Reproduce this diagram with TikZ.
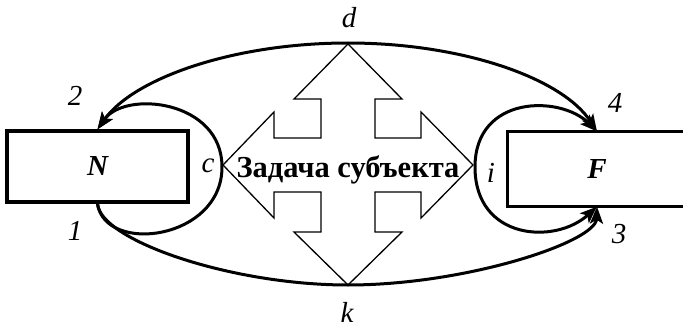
\documentclass[tikz,border=0pt]{standalone}
\usepackage{fontspec}
\setmainfont{Liberation Serif}
\usetikzlibrary{arrows.meta}
\tikzset{hd/.tip={Stealth[length=17pt,width=13pt,inset=4pt]}}
\begin{document}
\begin{tikzpicture}[x=1pt,y=-1pt,
  box/.style={line width=3.3pt, minimum width=181pt, minimum height=71pt, inner sep=0pt,
    font=\fontsize{29}{33}\selectfont\bfseries\itshape},
  flow/.style={line width=3pt},
  lbl/.style={font=\fontsize{29}{33}\selectfont\itshape, inner sep=0pt, anchor=base},
  cross/.style={line width=1.3pt, fill=white, line join=miter},
  title/.style={font=\fontsize{30.5}{34}\selectfont\bfseries, inner sep=0pt, anchor=base}]
\useasboundingbox (0,0) rectangle (683,329);
% boxes
\node[box, draw] (N) at (97.5,166.5) {N};
\node[box, minimum width=176pt, minimum height=72pt] (F) at (597,169) {F};
\draw[line width=3.3pt] (F.north east) -- (F.north west) -- (F.south west) -- (F.south east);
% points where curves meet the cross
\coordinate (dtop) at (348,43);
\coordinate (kbot) at (348,285);
\coordinate (cpt) at (222,167);
\coordinate (ipt) at (475,167);
% four-way arrow
\draw[cross] (348,44) -- (402,99) -- (375,99) -- (375,138) -- (421,138) -- (421,112)
  -- (473,165) -- (421,218) -- (421,192) -- (375,192) -- (375,232) -- (402,232)
  -- (348,285) -- (294,232) -- (321,232) -- (321,192) -- (274,192) -- (274,218)
  -- (223,165) -- (274,112) -- (274,138) -- (321,138) -- (321,99) -- (294,99) -- cycle;
\node[title] (task) at (348,177) {Задача субъекта};
% curves
\draw[flow, hd-hd] (N.north) .. controls (134,78) and (234,43) .. (dtop)
  .. controls (462,43) and (562,78) .. (F.north);
\draw[flow, -hd] (N.south) .. controls (100,240) and (230,285) .. (kbot)
  .. controls (466,285) and (596,242) .. (F.south);
\draw[flow, -hd] (N.south) .. controls (105,255) and (222,240) .. (cpt)
  .. controls (222,100) and (125,90) .. (N.north);
\draw[flow, hd-hd] (F.north) .. controls (560,95) and (475,95) .. (ipt)
  .. controls (475,240) and (555,245) .. (F.south);
% labels
\node[lbl] (l2) at (75,105) {2};
\node[lbl] (l1) at (75,240) {1};
\node[lbl] (l4) at (615,112) {4};
\node[lbl] (l3) at (619,243) {3};
\node[lbl] (lc) at (208,172) {c};
\node[lbl] (li) at (491,182) {i};
\node[lbl] (ld) at (349,28) {d};
\node[lbl] (lk) at (347,322) {k};
\end{tikzpicture}
\end{document}
